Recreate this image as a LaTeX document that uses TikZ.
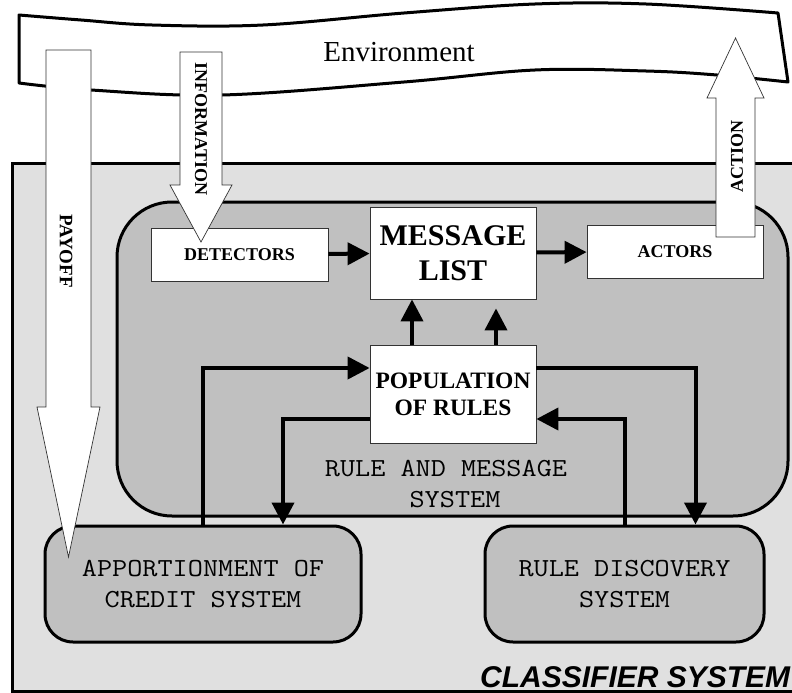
\documentclass[tikz,border=0pt]{standalone}
\usepackage{fontspec}
\setmainfont{Liberation Serif}
\newfontfamily\cmono[FakeStretch=1.13]{Latin Modern Mono}
\newfontfamily\csans{Liberation Sans}
\usetikzlibrary{arrows.meta}
\definecolor{outerfill}{HTML}{E0E0E0}
\definecolor{innerfill}{HTML}{C0C0C0}
\definecolor{thinline}{HTML}{333333}

\begin{document}
\begin{tikzpicture}[x=1pt,y=-1pt,
  panel/.style={draw=black, line width=3pt, fill=innerfill, inner sep=0pt},
  whitebox/.style={draw=thinline, line width=0.8pt, fill=white, inner sep=0pt, align=center},
  conn/.style={line width=4pt, -{Triangle[length=22pt,width=22pt]}},
  bigarrow/.style={draw=thinline, line width=0.7pt, fill=white, line join=miter},
  arrowlabel/.style={font=\bfseries\fontsize{18}{20}\selectfont, inner sep=0pt},
  monolabel/.style={font=\cmono\fontsize{26}{31}\selectfont, align=center, inner sep=0pt},
]
\useasboundingbox (0,0) rectangle (792,693);
\clip (0,0) rectangle (792,693);

% outer classifier system frame
\draw[line width=3pt, fill=outerfill] (12,163) rectangle (800,691);
\node[anchor=west, inner sep=0pt, font=\csans\bfseries\itshape\fontsize{30}{32}\selectfont]
  (cslabel) at (480,677) {CLASSIFIER SYSTEM};

% rule and message system panel
\node[panel, rounded corners=55pt, minimum width=671pt, minimum height=314pt] (rms) at (452.5,359) {};
\node[monolabel] (rmslabel) at (446,484.5) {RULE AND MESSAGE\\\hspace*{18pt}SYSTEM};

% inner boxes
\node[whitebox, minimum width=177pt, minimum height=53pt, font=\bfseries\fontsize{18}{20}\selectfont]
  (det) at (239.5,254.5) {DETECTORS};
\node[whitebox, minimum width=166pt, minimum height=92pt, font=\bfseries\fontsize{30}{35}\selectfont]
  (msg) at (453,253) {MESSAGE\\LIST};
\node[whitebox, minimum width=176pt, minimum height=53pt, font=\bfseries\fontsize{18}{20}\selectfont]
  (act) at (675,251.5) {ACTORS};
\node[whitebox, minimum width=166pt, minimum height=98pt, font=\bfseries\fontsize{23.5}{27}\selectfont]
  (pop) at (453,394) {POPULATION\\OF RULES};

% lower subsystems
\node[panel, rounded corners=28pt, minimum width=316pt, minimum height=116pt, monolabel]
  (credit) at (203,584) {APPORTIONMENT OF\\CREDIT SYSTEM};
\node[panel, rounded corners=28pt, minimum width=279pt, minimum height=116pt, monolabel]
  (disc) at (624.5,584) {RULE DISCOVERY\\SYSTEM};

% connectors
\draw[conn] (det) -- (msg);
\draw[conn] (msg) -- (act);
\draw[conn] ([xshift=-41pt]pop.north) -- ([xshift=-41pt]msg.south);
\draw[conn] ([xshift=43pt]pop.north) -- ([xshift=43pt,yshift=-9pt]msg.south);
\draw[conn] (credit.north) |- ([yshift=26pt]pop.west);
\draw[conn] ([yshift=-25pt]pop.west) -| ([xshift=80pt]credit.north);
\draw[conn] ([yshift=26pt]pop.east) -| ([xshift=71pt]disc.north);
\draw[conn] (disc.north) |- ([yshift=-25pt]pop.east);

% environment banner
\draw[line width=3pt, fill=white, line join=round]
  plot[smooth, tension=0.6] coordinates {(19,15) (81,20) (152,25) (263,25) (404,13) (535,4) (646,4) (778,13)}
  -- plot[smooth, tension=0.6] coordinates {(788,82) (717,75) (646,71) (535,70) (404,82) (222,95) (91,90) (19,83)}
  -- cycle;
\node[inner sep=0pt, font=\fontsize{29}{30}\selectfont] (env) at (399,52) {Environment};

% exchange arrows with the environment
\draw[bigarrow] (46,50) -- (91,50) -- (91,407) -- (100,407) -- (68.5,557) -- (37,407) -- (46,407) -- cycle;
\node[arrowlabel, rotate=-90, font=\bfseries\fontsize{19}{20}\selectfont] (payoff) at (66,251) {PAYOFF};

\draw[bigarrow] (180,52) -- (222,52) -- (222,185) -- (232,185) -- (201,242) -- (170,185) -- (180,185) -- cycle;
\node[arrowlabel, rotate=-90] (info) at (201,129) {INFORMATION};

\draw[bigarrow] (716,237) -- (755,237) -- (755,98) -- (764,98) -- (735.5,38) -- (707,98) -- (716,98) -- cycle;
\node[arrowlabel, rotate=90] (action) at (737,156) {ACTION};
\end{tikzpicture}
\end{document}
